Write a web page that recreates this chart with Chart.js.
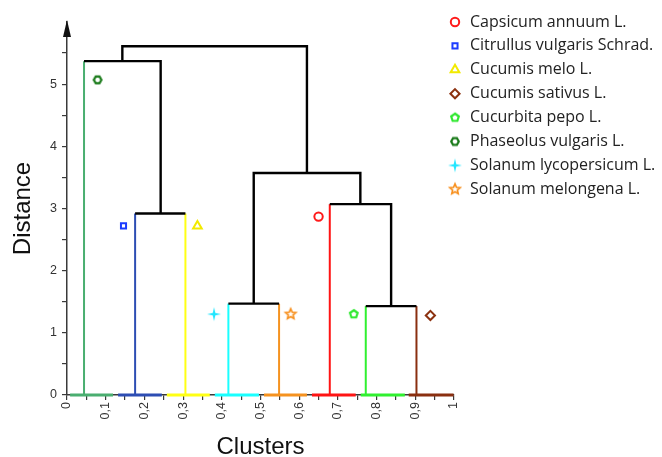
<!DOCTYPE html>
<html>
<head>
<meta charset="utf-8">
<script src="https://cdn.jsdelivr.net/npm/chart.js@4.4.0/dist/chart.umd.min.js"></script>
<style>
  html, body { margin: 0; padding: 0; background: #fff; }
  #wrap { width: 662px; height: 457px; }
</style>
</head>
<body>
<div id="wrap"><canvas id="dendro" width="662" height="457"></canvas></div>
<script>
// leaves, left to right along the x axis
const leafX = [0.044, 0.176, 0.306, 0.417, 0.548, 0.679, 0.772, 0.903];
const leafHeight = [5.37, 2.92, 2.92, 1.47, 1.47, 3.07, 1.43, 1.43];
const baseFrom = [0.008, 0.132, 0.258, 0.382, 0.509, 0.633, 0.759, 0.883];
const baseTo = [0.119, 0.245, 0.369, 0.496, 0.620, 0.746, 0.873, 0.999];

// merges: left/right x, merge distance, heights the two branches come up from
const joinLeftX = [0.044, 0.176, 0.417, 0.772, 0.679, 0.4825, 0.143];
const joinRightX = [0.242, 0.306, 0.548, 0.903, 0.8375, 0.758, 0.620];
const joinHeight = [5.37, 2.92, 1.47, 1.43, 3.07, 3.57, 5.61];
const joinLeftFrom = [5.37, 2.92, 1.47, 1.43, 3.07, 1.47, 5.37];
const joinRightFrom = [2.92, 2.92, 1.47, 1.43, 1.43, 3.07, 3.57];

// species labels (legend order) and where their marker sits
const speciesNames = ['Capsicum annuum L.', 'Citrullus vulgaris Schrad.', 'Cucumis melo L.', 'Cucumis sativus L.',
  'Cucurbita pepo L.', 'Phaseolus vulgaris L.', 'Solanum lycopersicum L.', 'Solanum melongena L.'];
const markerX = [0.650, 0.146, 0.337, 0.939, 0.741, 0.079, 0.380, 0.578];
const markerY = [2.87, 2.72, 2.72, 1.28, 1.30, 5.07, 1.30, 1.30];

const xTicks = [0, 0.1, 0.2, 0.3, 0.4, 0.5, 0.6, 0.7, 0.8, 0.9, 1];
const yTicks = [0, 1, 2, 3, 4, 5];

// styles
const leafColors = ['#4aae70', '#2d4db3', '#ffff14', '#1affff', '#f5921f', '#ff1414', '#30f030', '#8a2f10'];
const markerColors = ['#ff1a1a', '#1c3cff', '#f2ea00', '#8c3210', '#2ee82e', '#197a19', '#22e6ff', '#f7901e'];

function shape(kind, color) {
  const c = document.createElement('canvas');
  c.width = 18; c.height = 18;
  const g = c.getContext('2d');
  const cx = 9, cy = 9;
  g.beginPath();
  if (kind === 'hex') {
    for (let i = 0; i < 6; i++) {
      const a = i * Math.PI / 3;
      g.lineTo(cx + 3.8 * Math.cos(a), cy + 3.8 * Math.sin(a));
    }
  } else if (kind === 'pent') {
    for (let i = 0; i < 5; i++) {
      const a = -Math.PI / 2 + i * 2 * Math.PI / 5;
      g.lineTo(cx + 4 * Math.cos(a), cy + 4 * Math.sin(a));
    }
  } else if (kind === 'star4') {
    for (let i = 0; i < 8; i++) {
      const a = -Math.PI / 2 + i * Math.PI / 4;
      const r = i % 2 ? 1.8 : 7;
      g.lineTo(cx + r * Math.cos(a), cy + r * Math.sin(a));
    }
  } else if (kind === 'star5') {
    for (let i = 0; i < 10; i++) {
      const a = -Math.PI / 2 + i * Math.PI / 5;
      const r = i % 2 ? 2.5 : 5.4;
      g.lineTo(cx + r * Math.cos(a), cy + r * Math.sin(a));
    }
  }
  g.closePath();
  if (kind === 'star4') {
    g.fillStyle = color; g.fill();
  } else {
    g.fillStyle = '#fff'; g.fill();
    g.strokeStyle = color; g.lineWidth = kind === 'star5' ? 1.7 : 2.2; g.stroke();
  }
  return c;
}

const markerStyles = ['circle', 'rect', 'triangle', 'rectRot',
  shape('pent', markerColors[4]), shape('hex', markerColors[5]), shape('star4', markerColors[6]), shape('star5', markerColors[7])];
const markerRadius = [4.2, 3.6, 5, 4.6, 9, 9, 9, 9];

const datasets = [];

speciesNames.forEach((name, i) => {
  datasets.push({
    label: name,
    sideLegend: true,
    data: [{ x: markerX[i], y: markerY[i] }],
    pointStyle: markerStyles[i],
    pointRadius: markerRadius[i],
    pointBorderWidth: 2,
    pointBorderColor: markerColors[i],
    pointBackgroundColor: '#fff',
    showLine: false
  });
});

joinLeftX.forEach((lx, i) => {
  datasets.push({
    data: [
      { x: lx, y: joinLeftFrom[i] },
      { x: lx, y: joinHeight[i] },
      { x: joinRightX[i], y: joinHeight[i] },
      { x: joinRightX[i], y: joinRightFrom[i] }
    ],
    showLine: true, borderColor: '#000', borderWidth: 2.4, pointRadius: 0, clip: false
  });
});

leafX.forEach((x, i) => {
  datasets.push({
    data: [{ x: x, y: 0 }, { x: x, y: leafHeight[i] }],
    showLine: true, borderColor: leafColors[i], borderWidth: 2, pointRadius: 0, clip: false
  });
  datasets.push({
    data: [{ x: baseFrom[i], y: 0 }, { x: baseTo[i], y: 0 }],
    showLine: true, borderColor: leafColors[i], borderWidth: 3, pointRadius: 0, clip: false
  });
});

const sideLegend = {
  id: 'sideLegend',
  afterDraw(chart) {
    const ctx = chart.ctx;
    const items = chart.data.datasets.filter(d => d.sideLegend);
    ctx.save();
    ctx.font = '16px "Open Sans"';
    ctx.textBaseline = 'middle';
    items.forEach((d, i) => {
      const y = 22 + i * 23.9;
      ctx.fillStyle = d.pointBackgroundColor;
      ctx.strokeStyle = d.pointBorderColor;
      ctx.lineWidth = d.pointBorderWidth;
      Chart.helpers.drawPoint(ctx, { pointStyle: d.pointStyle, radius: d.pointRadius, borderWidth: d.pointBorderWidth, rotation: 0 }, 455, y);
      ctx.fillStyle = '#222';
      ctx.fillText(d.label, 470, y);
    });
    ctx.restore();
  }
};

const yArrow = {
  id: 'yArrow',
  afterDatasetsDraw(chart) {
    const { ctx, chartArea } = chart;
    const x = chartArea.left;
    ctx.save();
    ctx.fillStyle = '#111';
    ctx.beginPath();
    ctx.moveTo(x, chartArea.top - 2);
    ctx.lineTo(x - 4, chartArea.top + 15);
    ctx.lineTo(x + 4, chartArea.top + 15);
    ctx.closePath();
    ctx.fill();
    ctx.restore();
  }
};

const near = (v, list) => list.some(t => Math.abs(v - t) < 1e-6);

new Chart(document.getElementById('dendro'), {
  type: 'scatter',
  data: { datasets },
  plugins: [sideLegend, yArrow],
  options: {
    responsive: false,
    animation: false,
    layout: { padding: { left: 0, right: 208, top: 22, bottom: 0 } },
    plugins: { legend: { display: false }, tooltip: { enabled: false } },
    scales: {
      x: {
        type: 'linear', min: 0, max: 1,
        border: { color: '#3a3a3a', width: 1.5 },
        grid: { drawOnChartArea: false, tickLength: 5, color: '#3a3a3a', lineWidth: 1.2 },
        ticks: {
          stepSize: 0.05, autoSkip: false, minRotation: 90, maxRotation: 90, padding: 2,
          color: '#333', font: { family: 'Liberation Sans', size: 12.5 },
          callback: v => near(v, xTicks) ? String(Math.round(v * 10) / 10).replace('.', ',') : ''
        },
        title: {
          display: true, text: 'Clusters', color: '#111',
          font: { family: 'Liberation Sans', size: 24, lineHeight: 1 },
          padding: { top: 0, bottom: -2 }
        },
        afterFit: s => { s.height = 62; }
      },
      y: {
        min: 0, max: 6,
        border: { color: '#3a3a3a', width: 1.5 },
        grid: {
          drawOnChartArea: false, tickLength: 5, color: '#3a3a3a',
          lineWidth: c => (c.tick && c.tick.value >= 6 ? 0 : 1.2)
        },
        ticks: {
          stepSize: 0.5, autoSkip: false, padding: 5,
          color: '#333', font: { family: 'Liberation Sans', size: 12.5 },
          callback: v => near(v, yTicks) ? String(v) : ''
        },
        title: {
          display: true, text: 'Distance', color: '#111',
          font: { family: 'Liberation Sans', size: 24, lineHeight: 1 },
          padding: { top: 11, bottom: 0 }
        },
        afterFit: s => { s.width = 67; }
      }
    }
  }
});
</script>
</body>
</html>
